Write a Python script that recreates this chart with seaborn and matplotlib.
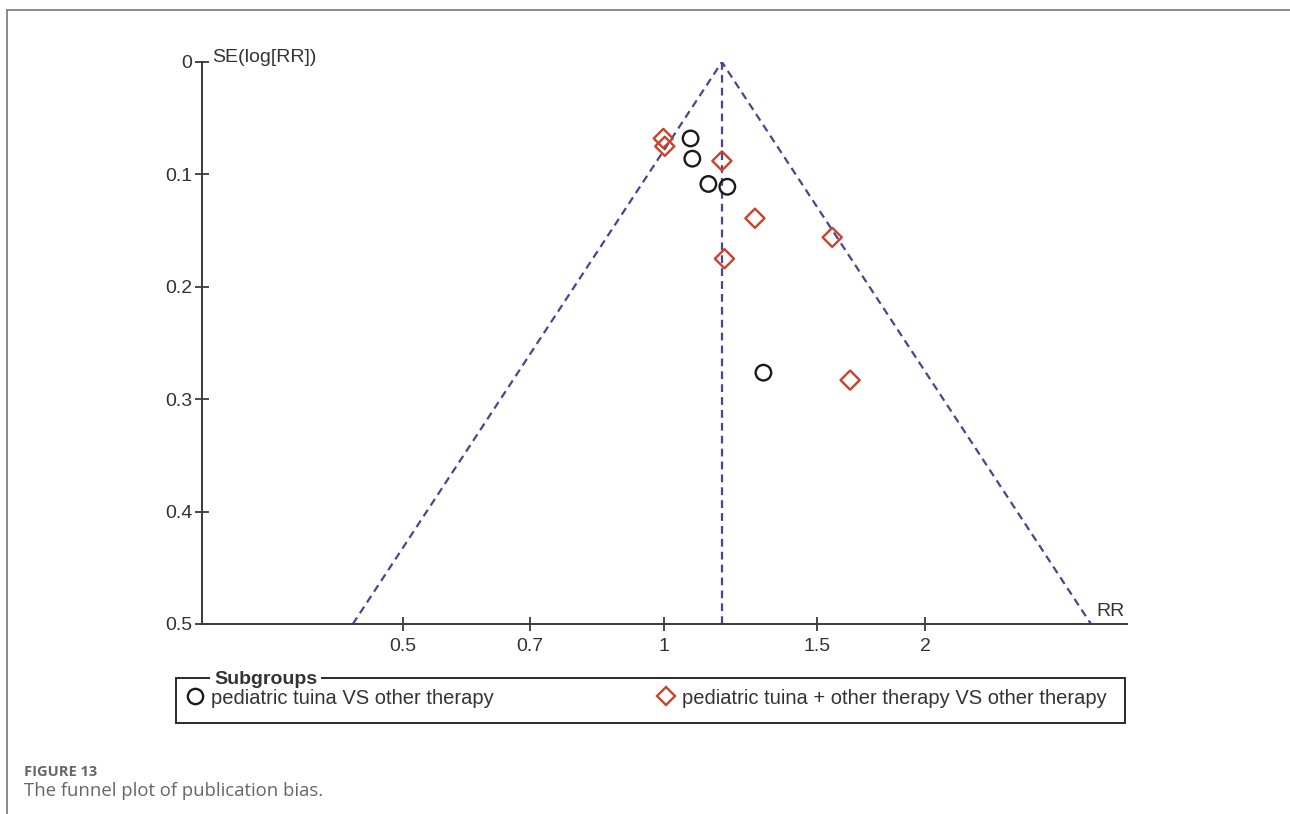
import numpy as np
import pandas as pd
import matplotlib.pyplot as plt
import seaborn as sns
from matplotlib.lines import Line2D

# --- Data ---
GROUP_A = 'pediatric tuina VS other therapy'
GROUP_B = 'pediatric tuina + other therapy VS other therapy'

a_rr = [1.073, 1.078, 1.125, 1.183, 1.302]
a_se = [0.068, 0.086, 0.1085, 0.111, 0.2764]

b_rr = [0.998, 1.002, 1.166, 1.273, 1.563, 1.174, 1.639]
b_se = [0.068, 0.075, 0.088, 0.139, 0.156, 0.175, 0.283]

POOLED_RR = 1.166
SE_MAX = 0.5
x_ticks = [0.5, 0.7, 1, 1.5, 2]
x_tick_labels = ['0.5', '0.7', '1', '1.5', '2']
y_ticks = [0, 0.1, 0.2, 0.3, 0.4, 0.5]
y_tick_labels = ['0', '0.1', '0.2', '0.3', '0.4', '0.5']

df = pd.DataFrame({
    'RR': a_rr + b_rr,
    'SE': a_se + b_se,
    'group': [GROUP_A] * len(a_rr) + [GROUP_B] * len(b_rr),
})

# --- Style ---
sns.set_style('white')
plt.rcParams['font.family'] = ['Liberation Sans', 'DejaVu Sans']

W, H = 1290, 814
fig = plt.figure(figsize=(W / 100, H / 100), dpi=100)
ax = fig.add_axes([202 / W, 1 - 624 / H, (1127 - 202) / W, (624 - 62) / H])

AXIS_COL = '#3a3a3a'
FUNNEL_COL = '#4a4590'
RED = '#c8432a'
TXT = '#333333'

# funnel: 95% limits around pooled estimate
se_line = np.array([SE_MAX, 0, SE_MAX])
rr_line = np.exp(np.log(POOLED_RR) + np.array([-1.96, 0, 1.96]) * se_line)
ax.plot(rr_line, se_line, color=FUNNEL_COL, lw=1.6, dashes=(3.5, 2.3), zorder=1)
ax.plot([POOLED_RR, POOLED_RR], [0, SE_MAX], color=FUNNEL_COL, lw=1.6,
        dashes=(3.5, 2.3), zorder=1)

sns.scatterplot(data=df, x='RR', y='SE', hue='group', style='group',
                markers={GROUP_A: 'o', GROUP_B: 'D'},
                palette={GROUP_A: '#1a1a1a', GROUP_B: RED},
                size='group', sizes={GROUP_A: 125, GROUP_B: 95},
                legend=False, ax=ax, zorder=3)
# hollow markers
for coll in ax.collections:
    fc = coll.get_facecolors()
    coll.set_edgecolors(fc)
    coll.set_facecolor('none')
    coll.set_linewidth(1.7)

ax.set_xscale('log')
ax.set_xlim(0.2932, 3.419)
ax.set_ylim(SE_MAX, 0)
ax.set_xticks(x_ticks)
ax.set_xticklabels(x_tick_labels)
ax.xaxis.set_minor_locator(plt.NullLocator())
ax.set_yticks(y_ticks)
ax.set_yticklabels(y_tick_labels)
ax.set_xlabel('')
ax.set_ylabel('')

for side in ['top', 'right']:
    ax.spines[side].set_visible(False)
for side in ['left', 'bottom']:
    ax.spines[side].set_color(AXIS_COL)
    ax.spines[side].set_linewidth(1.4)
ax.tick_params(axis='both', which='major', bottom=True, left=True,
               direction='inout', length=10, width=1.3,
               color=AXIS_COL, labelsize=14, labelcolor=TXT)
ax.tick_params(axis='x', pad=5)
ax.tick_params(axis='y', pad=2)

ax.annotate('SE(log[RR])', xy=(0, 1), xycoords='axes fraction',
            xytext=(10, 4), textcoords='offset pixels', ha='left', va='center',
            fontsize=14, color=TXT)
ax.annotate('RR', xy=(1, 0), xycoords='axes fraction',
            xytext=(-2, 4), textcoords='offset pixels', ha='right', va='bottom',
            fontsize=14, color=TXT)

# --- Legend box ---
box_l, box_r, box_t, box_b = 176, 1125, 678, 723
fx = lambda px: px / W
fy = lambda py: 1 - py / H
for xs, ys in [([box_l, box_r], [box_t, box_t]), ([box_r, box_r], [box_t, box_b]),
               ([box_r, box_l], [box_b, box_b]), ([box_l, box_l], [box_b, box_t])]:
    fig.add_artist(Line2D([fx(x) for x in xs], [fy(y) for y in ys],
                          color='#2a2a2a', lw=1.4))
fig.text(fx(214), fy(679), 'Subgroups', fontsize=14, fontweight='bold',
         color=TXT, ha='left', va='center',
         bbox=dict(facecolor='white', edgecolor='none', pad=3))

h_a = Line2D([], [], marker='o', ls='none', mfc='none', mec='#1a1a1a',
             mew=1.7, markersize=11)
h_b = Line2D([], [], marker='D', ls='none', mfc='none', mec=RED,
             mew=1.7, markersize=9.5)
leg1 = fig.legend([h_a], [GROUP_A], loc='center left',
                  bbox_to_anchor=(fx(185), fy(698)), frameon=False,
                  fontsize=14.5, handlelength=1.0, handletextpad=0.3,
                  borderpad=0, borderaxespad=0, labelcolor=TXT)
leg2 = fig.legend([h_b], [GROUP_B], loc='center left',
                  bbox_to_anchor=(fx(656), fy(698)), frameon=False,
                  fontsize=14.5, handlelength=1.0, handletextpad=0.3,
                  borderpad=0, borderaxespad=0, labelcolor=TXT)

# --- Page frame and caption ---
fig.add_artist(Line2D([fx(7), fx(W)], [fy(10), fy(10)], color='#777777', lw=1.2))
fig.add_artist(Line2D([fx(7), fx(7)], [fy(10), 0], color='#777777', lw=1.2))
fig.text(fx(24), fy(772), 'FIGURE 13', fontsize=10.5, fontweight='bold',
         color='#666666', ha='left', va='center', family=['Open Sans', 'DejaVu Sans'])
fig.text(fx(24), fy(791), 'The funnel plot of publication bias.', fontsize=13.3,
         color='#666666', ha='left', va='center', family=['Open Sans', 'DejaVu Sans'])

fig.savefig('out.png', dpi=100)
